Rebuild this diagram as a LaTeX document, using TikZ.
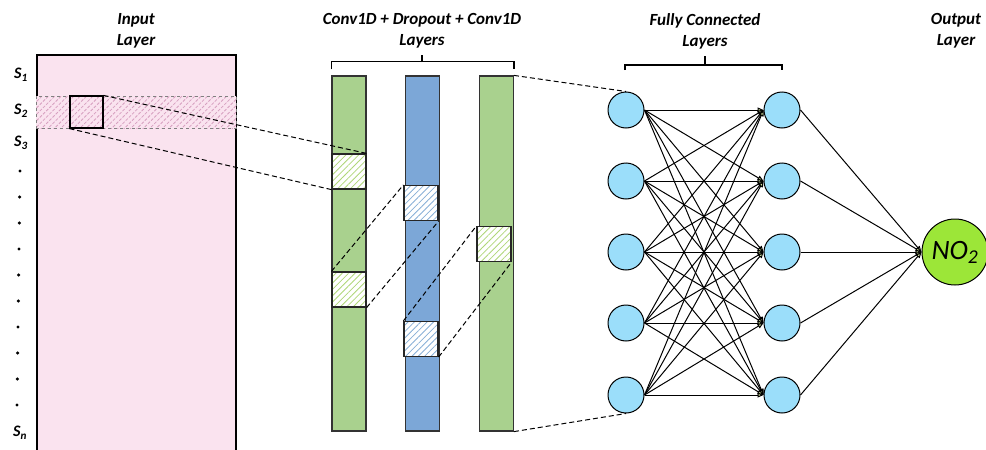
\documentclass[tikz,border=0pt]{standalone}
\usepackage{fontspec}
\setmainfont{Carlito}
\usetikzlibrary{arrows.meta,positioning,patterns.meta}
\definecolor{softpink}{RGB}{250,227,239}
\definecolor{hatchpink}{RGB}{215,160,192}
\definecolor{convgreen}{RGB}{169,209,142}
\definecolor{hatchgreen}{RGB}{175,215,120}
\definecolor{dropblue}{RGB}{124,167,215}
\definecolor{hatchblue}{RGB}{135,175,215}
\definecolor{neuronblue}{RGB}{155,222,250}
\definecolor{outgreen}{RGB}{156,230,56}
\definecolor{tipgreen}{RGB}{214,232,160}

\begin{document}
\begin{tikzpicture}[x=1pt,y=-1pt, every node/.style={font=\fontsize{17}{21}\selectfont\bfseries\itshape,align=center},
  col/.style={draw=black!80,line width=1.2pt,minimum width=34pt,minimum height=355pt,inner sep=0pt},
  win/.style={draw=black!85,line width=1.2pt,minimum width=34pt,minimum height=35pt,inner sep=0pt},
  hatch/.style={preaction={fill=white},pattern={Lines[angle=45,distance=4.5pt,line width=0.8pt]},pattern color=#1},
  neuron/.style={circle,draw,line width=1pt,fill=neuronblue,minimum size=36pt,inner sep=0pt},
  link/.style={dash pattern=on 5pt off 3pt,line width=1pt},
  fc/.style={line width=1pt,-{Triangle[length=6pt,width=5pt,fill=tipgreen]}},
  slab/.style={font=\fontsize{16}{16}\selectfont\bfseries\itshape}]
\useasboundingbox (0,0) rectangle (986,450);
% titles
\node (t1) at (136,31) {Input\\Layer};
\node (t2) at (422,31) {Conv1D + Dropout + Conv1D\\Layers};
\node (t3) at (705,31) {Fully Connected\\Layers};
\node (t4) at (956,31) {Output\\Layer};
% input layer
\node[draw,fill=softpink,line width=1.2pt,minimum width=199pt,minimum height=397pt,inner sep=0pt] (inp) at (136.5,253.5) {};
\node[draw=gray,dashed,line width=1pt,minimum width=200pt,minimum height=32pt,inner sep=0pt,preaction={fill=softpink},pattern={Lines[angle=45,distance=4.5pt,line width=0.8pt]},pattern color=hatchpink] (band) at (136,112) {};
\node[draw,line width=1.2pt,minimum width=33pt,minimum height=32pt,inner sep=0pt] (sq) at (86.5,112) {};
\node[slab] (s1) at (21,75) {S\textsubscript{1}};
\node[slab] (s2) at (21,111) {S\textsubscript{2}};
\node[slab] (s3) at (21,143) {S\textsubscript{3}};
\node[slab] (sn) at (20,433) {S\textsubscript{n}};
\foreach \i in {0,...,9} \fill ({20-0.33*\i},{171+26*\i}) circle (1.7);
% conv1d + dropout + conv1d
\node[col,fill=convgreen] (c1) at (349,253.5) {};
\node[col,fill=dropblue,right=38pt of c1] (c2) {};
\node[col,fill=convgreen,right=39pt of c2] (c3) {};
\node[win,hatch=hatchgreen] (c1a) at (349,171.5) {};
\node[win,hatch=hatchgreen] (c1b) at (349,289.5) {};
\node[win,hatch=hatchblue] (c2a) at (421,203) {};
\node[win,hatch=hatchblue] (c2b) at (421,339) {};
\node[win,hatch=hatchgreen] (c3a) at (494,244) {};
\draw[line width=1.2pt] ([yshift=6pt]c1.north west) |- ([yshift=14pt]c3.north east) -- ([yshift=6pt]c3.north east);
\draw[line width=1.2pt] (422,62) -- (422,55);
% fully connected
\foreach \i/\y in {1/110,2/181,3/252,4/323,5/395} {
  \node[neuron] (h\i) at (626,\y) {};
  \node[neuron] (g\i) at (782,\y) {};
}
\draw[line width=1.2pt] (625,70) |- (782,65) -- (782,70);
\draw[line width=1.2pt] (705,65) -- (705,56);
\node[circle,draw,line width=1pt,fill=outgreen,minimum size=66pt,inner sep=0pt,font=\fontsize{28}{28}\selectfont\itshape] (out) at (955,252) {NO\textsubscript{2}};
\foreach \i in {1,...,5} \foreach \j in {1,...,5} \draw[fc] (h\i.east) -- (g\j.west);
\foreach \j in {1,...,5} \draw[fc] (g\j.east) -- (out.west);
% dashed links
\draw[link] (sq.north east) -- (c1a.north east);
\draw[link] (sq.south west) -- (c1a.south west);
\draw[link] (c1b.north west) -- (c2a.north west);
\draw[link] (c1b.south east) -- (c2a.south east);
\draw[link] (c2b.north west) -- (c3a.north west);
\draw[link] (c2b.south east) -- (c3a.south east);
\draw[link] (c3.north east) -- (h1.north);
\draw[link] (c3.south east) -- (h5.south);
\end{tikzpicture}
\end{document}
